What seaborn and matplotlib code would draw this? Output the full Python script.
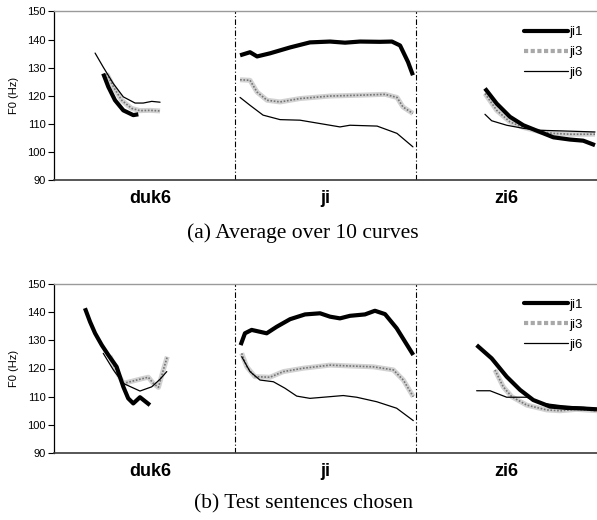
import numpy as np
import pandas as pd
import seaborn as sns
import matplotlib
matplotlib.use("Agg")
import matplotlib.pyplot as plt
from matplotlib.lines import Line2D

sns.set_theme(style="white")
plt.rcParams['font.family'] = ['Liberation Sans', 'DejaVu Sans']
plt.rcParams.update({"text.color": "black", "axes.labelcolor": "black",
                     "xtick.color": "black", "ytick.color": "black"})

# ---------------- data ----------------
syllables = ["duk6", "ji", "zi6"]
series_names = ["ji1", "ji3", "ji6"]
y_ticks = [90, 100, 110, 120, 130, 140, 150]
captions = ["(a) Average over 10 curves", "(b) Test sentences chosen"]

# panel (a): average over 10 curves  (t: normalised time, syllable i spans [i, i+1])
a_duk6_ji1_t = [0.272, 0.300, 0.337, 0.383, 0.438, 0.466]
a_duk6_ji1_f = [127.9, 123.2, 118.4, 114.8, 113.1, 113.4]
a_duk6_ji3_t = [0.291, 0.328, 0.374, 0.429, 0.475, 0.530, 0.586]
a_duk6_ji3_f = [127.9, 123.2, 118.4, 115.5, 114.7, 114.8, 114.6]
a_duk6_ji6_t = [0.227, 0.272, 0.328, 0.383, 0.448, 0.493, 0.540, 0.586]
a_duk6_ji6_f = [135.2, 130.2, 124.3, 119.6, 117.4, 117.4, 118.0, 117.7]

a_ji_ji1_t = [1.028, 1.083, 1.122, 1.193, 1.304, 1.414, 1.525, 1.608, 1.691, 1.801, 1.867, 1.912, 1.956, 1.983]
a_ji_ji1_f = [134.4, 135.5, 134.0, 135.1, 137.2, 139.0, 139.3, 138.9, 139.3, 139.2, 139.3, 137.9, 132.0, 127.3]
a_ji_ji3_t = [1.028, 1.083, 1.122, 1.177, 1.249, 1.359, 1.525, 1.691, 1.829, 1.895, 1.928, 1.983]
a_ji_ji3_f = [125.7, 125.5, 121.3, 118.4, 117.8, 119.0, 119.9, 120.2, 120.5, 119.4, 116.0, 113.7]
a_ji_ji6_t = [1.028, 1.083, 1.155, 1.249, 1.359, 1.525, 1.580, 1.635, 1.785, 1.895, 1.983]
a_ji_ji6_f = [119.4, 116.6, 113.1, 111.5, 111.3, 109.5, 108.9, 109.5, 109.2, 106.6, 101.8]

a_zi6_ji1_t = [2.381, 2.446, 2.519, 2.593, 2.685, 2.759, 2.851, 2.924, 2.989]
a_zi6_ji1_f = [122.6, 117.2, 112.5, 109.5, 107.1, 105.2, 104.4, 104.0, 102.4]
a_zi6_ji3_t = [2.381, 2.446, 2.519, 2.593, 2.685, 2.759, 2.851, 2.989]
a_zi6_ji3_f = [120.8, 114.8, 110.7, 108.7, 107.2, 106.6, 106.3, 106.3]
a_zi6_ji6_t = [2.381, 2.418, 2.501, 2.593, 2.685, 2.796, 2.989]
a_zi6_ji6_f = [113.4, 111.1, 109.5, 108.4, 107.7, 107.5, 107.1]

# panel (b): test sentences chosen
b_duk6_ji1_t = [0.171, 0.199, 0.227, 0.264, 0.300, 0.346, 0.383, 0.410, 0.438, 0.475, 0.530]
b_duk6_ji1_f = [141.4, 136.6, 132.5, 128.3, 124.8, 120.6, 113.5, 109.4, 107.6, 109.8, 107.0]
b_duk6_ji3_t = [0.309, 0.346, 0.383, 0.420, 0.475, 0.521, 0.549, 0.577, 0.604, 0.626]
b_duk6_ji3_f = [124.4, 118.9, 114.7, 115.3, 116.2, 116.9, 114.7, 113.3, 119.5, 124.2]
b_duk6_ji6_t = [0.272, 0.328, 0.383, 0.475, 0.540, 0.586, 0.623]
b_duk6_ji6_f = [125.4, 119.5, 114.7, 112.0, 113.5, 116.2, 118.9]

b_ji_ji1_t = [1.031, 1.055, 1.092, 1.175, 1.230, 1.304, 1.387, 1.470, 1.525, 1.580, 1.635, 1.718, 1.773, 1.829, 1.893, 1.985]
b_ji_ji1_f = [128.3, 132.5, 133.7, 132.5, 134.8, 137.5, 139.2, 139.6, 138.4, 137.8, 138.7, 139.2, 140.5, 139.3, 134.3, 124.8]
b_ji_ji3_t = [1.037, 1.065, 1.110, 1.193, 1.267, 1.377, 1.525, 1.635, 1.764, 1.875, 1.930, 1.985]
b_ji_ji3_f = [125.4, 120.6, 117.1, 116.9, 118.9, 120.1, 121.2, 120.9, 120.6, 119.5, 115.9, 110.0]
b_ji_ji6_t = [1.037, 1.083, 1.138, 1.212, 1.276, 1.341, 1.414, 1.525, 1.598, 1.672, 1.783, 1.893, 1.985]
b_ji_ji6_f = [124.2, 118.9, 115.9, 115.3, 113.0, 110.2, 109.4, 110.0, 110.4, 109.8, 108.2, 105.9, 101.5]

b_zi6_ji1_t = [2.335, 2.418, 2.501, 2.575, 2.648, 2.740, 2.832, 2.924, 3.0]
b_zi6_ji1_f = [128.3, 123.6, 117.1, 112.4, 108.8, 106.5, 106.0, 105.8, 105.5]
b_zi6_ji3_t = [2.436, 2.482, 2.529, 2.612, 2.722, 2.796, 2.888, 3.0]
b_zi6_ji3_f = [119.5, 113.5, 110.0, 107.0, 105.3, 105.0, 105.5, 105.0]
b_zi6_ji6_t = [2.335, 2.409, 2.501, 2.612, 2.703, 2.814, 2.924, 3.0]
b_zi6_ji6_f = [112.1, 112.1, 109.8, 109.8, 107.6, 106.7, 106.2, 105.8]

panels = [
    {
        "ji1": [(a_duk6_ji1_t, a_duk6_ji1_f), (a_ji_ji1_t, a_ji_ji1_f), (a_zi6_ji1_t, a_zi6_ji1_f)],
        "ji3": [(a_duk6_ji3_t, a_duk6_ji3_f), (a_ji_ji3_t, a_ji_ji3_f), (a_zi6_ji3_t, a_zi6_ji3_f)],
        "ji6": [(a_duk6_ji6_t, a_duk6_ji6_f), (a_ji_ji6_t, a_ji_ji6_f), (a_zi6_ji6_t, a_zi6_ji6_f)],
    },
    {
        "ji1": [(b_duk6_ji1_t, b_duk6_ji1_f), (b_ji_ji1_t, b_ji_ji1_f), (b_zi6_ji1_t, b_zi6_ji1_f)],
        "ji3": [(b_duk6_ji3_t, b_duk6_ji3_f), (b_ji_ji3_t, b_ji_ji3_f), (b_zi6_ji3_t, b_zi6_ji3_f)],
        "ji6": [(b_duk6_ji6_t, b_duk6_ji6_f), (b_ji_ji6_t, b_ji_ji6_f), (b_zi6_ji6_t, b_zi6_ji6_f)],
    },
]

# ---------------- styles ----------------
DOT = (0, (1.0, 1.0))


def draw_series(ax, name, t, f):
    df = pd.DataFrame({"t": t, "f0": f})
    if name == "ji1":
        sns.lineplot(data=df, x="t", y="f0", ax=ax, sort=False, color="black",
                     lw=3.0, solid_capstyle="butt", solid_joinstyle="round", zorder=4)
    elif name == "ji3":
        sns.lineplot(data=df, x="t", y="f0", ax=ax, sort=False, color="#d2d2d2",
                     lw=3.6, solid_capstyle="butt", solid_joinstyle="round", zorder=3)
        sns.lineplot(data=df, x="t", y="f0", ax=ax, sort=False, color="#757575",
                     lw=1.2, linestyle=DOT, zorder=3.5)
    else:
        sns.lineplot(data=df, x="t", y="f0", ax=ax, sort=False, color="black",
                     lw=0.9, solid_joinstyle="round", zorder=5)


fig = plt.figure(figsize=(5.97, 5.20), dpi=100)
W, H = 597, 520
axes_px = [(11.5, 180), (284, 453)]  # top, bottom in pixels
left_px = 54

for i, (top, bot) in enumerate(axes_px):
    ax = fig.add_axes([left_px / W, 1 - bot / H, 1 - left_px / W, (bot - top) / H])
    for name in series_names:
        for t, f in panels[i][name]:
            draw_series(ax, name, t, f)

    ax.set_xlim(0, 3)
    ax.set_ylim(90, 150)
    ax.set_yticks(y_ticks)
    ax.set_yticklabels([str(v) for v in y_ticks], fontsize=8)
    ax.set_xticks([0.53, 1.5, 2.5])
    ax.set_xticklabels(syllables, fontsize=13, fontweight="bold")
    ax.tick_params(axis="x", length=0, pad=7)
    ax.tick_params(axis="y", length=4, width=0.8, color="black", pad=2, left=True)
    ax.set_xlabel("")
    ax.set_ylabel("F0 (Hz)", fontsize=8, labelpad=6)

    for sx in [1, 2]:
        ax.axvline(sx, color="black", lw=0.8, linestyle=(0, (5, 2, 1, 2)), zorder=2)

    ax.spines["left"].set_color("black")
    ax.spines["left"].set_linewidth(0.9)
    ax.spines["bottom"].set_color("#3a3a3a")
    ax.spines["bottom"].set_linewidth(1.2)
    ax.spines["top"].set_color("#9a9a9a")
    ax.spines["top"].set_linewidth(1.0)
    ax.spines["right"].set_visible(False)

    handles = [
        Line2D([], [], color="black", lw=3.0),
        Line2D([], [], color="#a8a8a8", lw=3.0, linestyle=(0, (1.0, 0.6))),
        Line2D([], [], color="black", lw=0.9),
    ]
    ax.legend(handles, series_names, loc="upper right", bbox_to_anchor=(1.0, 1.0),
              frameon=False, fontsize=9.5, handlelength=3.3, handletextpad=0.1,
              labelspacing=0.6, borderaxespad=0.7)

fig.text(303 / W, 1 - 233 / H, captions[0], ha="center", va="center",
         fontsize=15.5, family="Liberation Serif")
fig.text(303 / W, 1 - 504 / H, captions[1], ha="center", va="center",
         fontsize=15.5, family="Liberation Serif")

fig.savefig("out.png", dpi=100)
